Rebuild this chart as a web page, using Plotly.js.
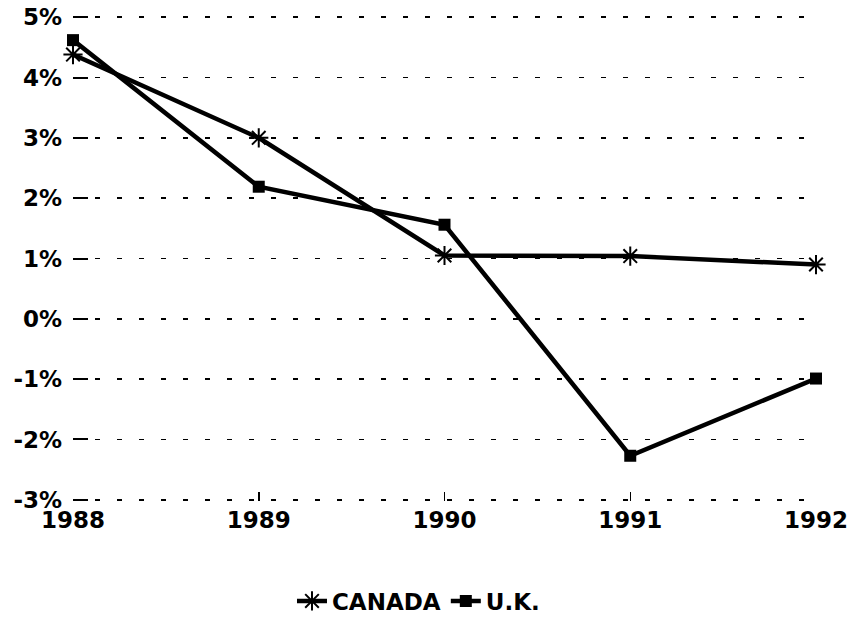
<!DOCTYPE html>
<html>
<head>
<meta charset="utf-8">
<script src="https://cdn.plot.ly/plotly-3.0.1.min.js"></script>
<style>html,body{margin:0;padding:0;background:#fff;}#chart{width:851px;height:617px;}</style>
</head>
<body>
<div id="chart"></div>
<script>
const years = [1988, 1989, 1990, 1991, 1992];
const canada = [4.38, 3.0, 1.05, 1.04, 0.9];
const uk = [4.62, 2.19, 1.56, -2.27, -0.99];
const yTickVals = [-3, -2, -1, 0, 1, 2, 3, 4, 5];
const yTickText = ['-3%', '-2%', '-1%', '0%', '1%', '2%', '3%', '4%', '5%'];
const xTickText = ['1988', '1989', '1990', '1991', '1992'];

const font = {family: 'DejaVu Sans', size: 23, color: '#000', weight: 700};

const traces = [
  {
    x: years, y: canada, name: 'CANADA', type: 'scatter', mode: 'lines+markers',
    line: {color: '#000', width: 4.5},
    marker: {symbol: 'asterisk-open', size: 16, color: '#000', line: {color: '#000', width: 2}},
    cliponaxis: false
  },
  {
    x: years, y: uk, name: 'U.K.', type: 'scatter', mode: 'lines+markers',
    line: {color: '#000', width: 4.5},
    marker: {symbol: 'square', size: 12, color: '#000'},
    cliponaxis: false
  }
];

const layout = {
  width: 851, height: 617,
  margin: {l: 73, r: 35, t: 16, b: 116, autoexpand: false},
  paper_bgcolor: '#fff', plot_bgcolor: '#fff',
  font: font,
  showlegend: true,
  legend: {
    orientation: 'h', x: 0.465, xanchor: 'center',
    yref: 'container', y: 0.026, yanchor: 'middle',
    font: {family: 'DejaVu Sans', size: 23, color: '#000', weight: 700},
    itemwidth: 30, tracegroupgap: 0
  },
  xaxis: {
    range: [1988, 1992],
    tickvals: years, ticktext: xTickText,
    showgrid: false, zeroline: false, showline: false,
    ticks: 'inside', ticklen: 9, tickwidth: 1.5, tickcolor: '#000',
    ticklabelstandoff: 3,
    tickfont: font
  },
  yaxis: {
    range: [-3.02, 5.02],
    tickvals: yTickVals, ticktext: yTickText,
    showgrid: true, gridcolor: '#000', gridwidth: 1.5, griddash: '5px,17px',
    zeroline: false, showline: false,
    ticks: 'inside', ticklen: 15, tickwidth: 2, tickcolor: '#000',
    ticklabelstandoff: 10,
    tickfont: font
  }
};

Plotly.newPlot('chart', traces, layout, {displayModeBar: false, staticPlot: true});
</script>
</body>
</html>
